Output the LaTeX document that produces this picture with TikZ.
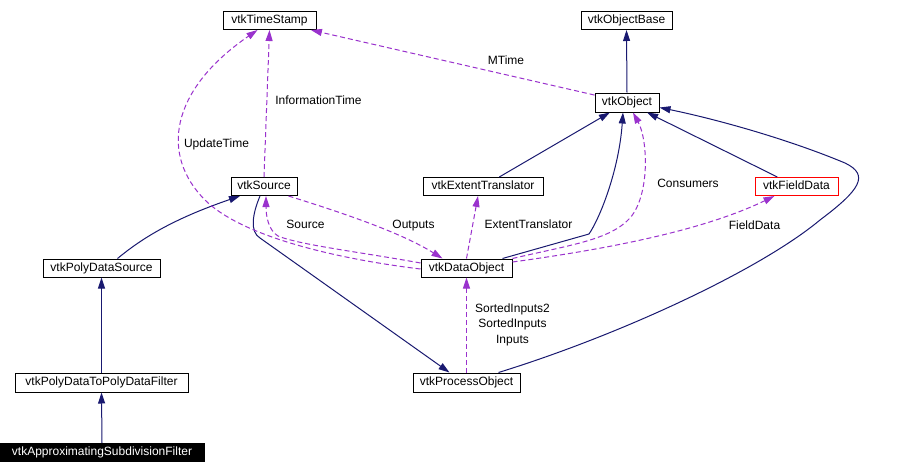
\documentclass[tikz,border=0pt]{standalone}
\usepackage{fontspec}
\setmainfont{Liberation Sans}
\usetikzlibrary{arrows.meta,calc}
\definecolor{inhblue}{HTML}{191970}
\definecolor{usepurple}{HTML}{9A32CD}
\tikzset{
	cls/.style={draw=black, line width=1pt, fill=white, inner sep=0pt, minimum height=18pt,
		font=\fontsize{12}{14}\selectfont, text height=8.6pt, text depth=2.6pt},
	inherit/.style={draw=inhblue, line width=1pt, -{Triangle[length=11pt,width=7pt]}},
	uses/.style={draw=usepurple, line width=1pt, dash pattern=on 5pt off 3pt,
		-{Triangle[length=11pt,width=7pt,fill=usepurple]}},
	lbl/.style={inner sep=0pt, font=\fontsize{12}{15.5}\selectfont, text height=8.6pt, text depth=0pt},
}

\begin{document}
\begin{tikzpicture}[x=1pt, y=-1pt]
			%%%%% START %%%%%
			
			\path[fill=white, use as bounding box] (0, 0) rectangle (898, 474);
			
			\node[cls, minimum width=93pt] (stamp) at (269.5, 20.5) {vtkTimeStamp};
			\node[cls, minimum width=91pt] (objbase) at (626.5, 20.5) {vtkObjectBase};
			\node[cls, minimum width=64pt, minimum height=19pt] (object) at (627, 102.5) {vtkObject};
			
			\node[cls, minimum width=66pt] (source) at (264, 186.5) {vtkSource};
			\node[cls, minimum width=120pt] (extent) at (483, 186.5) {vtkExtentTranslator};
			\node[cls, draw=red, minimum width=83pt] (fielddata) at (796.5, 186.5) {vtkFieldData};
			
			\node[cls, minimum width=91pt] (dataobj) at (466.5, 268) {vtkDataObject};
			\node[cls, minimum width=117pt] (polysrc) at (101.5, 268) {vtkPolyDataSource};
			
			\node[cls, minimum width=173pt, minimum height=19pt] (polyfilter) at (101.5, 382.5) {vtkPolyDataToPolyDataFilter};
			\node[cls, minimum width=107pt, minimum height=19pt] (procobj) at (466.5, 382.5) {vtkProcessObject};
			
			\node[cls, fill=black, text=white, minimum width=204pt] (approx) at (102, 452.5) {vtkApproximatingSubdivisionFilter};
			
			% inheritance
			\draw[inherit] (object.north) -- (objbase.south);
			\draw[inherit] (extent) -- (object);
			\draw[inherit] (fielddata) -- (object);
			\draw[inherit] ([xshift=36]dataobj.north) -- (589, 234) .. controls (600, 218) and (619, 170) .. ([xshift=-4]object.south);
			\draw[inherit] ([xshift=32]procobj.north) .. controls (620, 335) and (760, 270) .. (820, 220)
				.. controls (860, 190) and (870, 175) .. (845, 163)
				.. controls (790, 140) and (720, 120) .. ([yshift=-5]object.east);
			\draw[inherit] ([xshift=16]polysrc.north) .. controls (140, 240) and (170, 220) .. ([xshift=-24]source.south);
			\draw[inherit] (polyfilter.north) -- (polysrc.south);
			\draw[inherit] (approx.north) -- (polyfilter.south);
			\draw[inherit] ([xshift=-4]source.south) .. controls (252, 215) and (250, 232) .. (260, 238) -- ([xshift=-17]procobj.north);
			
			% usage
			\draw[uses] (source.north) -- (stamp.south);
			\draw[uses] (object) -- (stamp);
			\draw[uses] ([yshift=-1]dataobj.west) .. controls (330, 258) and (240, 235) .. (205, 200)
				.. controls (160, 155) and (170, 90) .. ([xshift=-12]stamp.south);
			\draw[uses] ([yshift=5]dataobj.west) .. controls (360, 252) and (300, 245) .. (278, 236)
				.. controls (268, 230) and (266, 215) .. ([xshift=2]source.south);
			\draw[uses] ([xshift=-9]source.south east) .. controls (340, 212) and (400, 232) .. ([xshift=-24]dataobj.north);
			\draw[uses] (dataobj.north) -- ([xshift=-5]extent.south);
			\draw[uses] (dataobj.north east) .. controls (570, 245) and (610, 240) .. (630, 218)
				.. controls (650, 195) and (648, 140) .. ([xshift=6]object.south);
			\draw[uses] ([yshift=6]dataobj.east) .. controls (600, 250) and (700, 232) .. ([xshift=-22]fielddata.south);
			\draw[uses] (procobj.north) -- (dataobj.south);
			
			% labels
			\node[lbl] (lblinfo) at (318.5, 100) {InformationTime};
			\node[lbl] (lblmtime) at (506, 60) {MTime};
			\node[lbl] (lblupdate) at (216.5, 143) {UpdateTime};
			\node[lbl] (lblsource) at (305.5, 224) {Source};
			\node[lbl] (lbloutputs) at (413.5, 224) {Outputs};
			\node[lbl] (lblextent) at (528.5, 224) {ExtentTranslator};
			\node[lbl] (lblconsumers) at (688, 183) {Consumers};
			\node[lbl] (lblfield) at (754.5, 225) {FieldData};
			\node[inner sep=0pt, align=center, font=\fontsize{12}{15.5}\selectfont] (lblinputs) at (512.5, 324.5) {SortedInputs2\\SortedInputs\\Inputs};
			
			%%%%% END %%%%%
\end{tikzpicture}
\end{document}
